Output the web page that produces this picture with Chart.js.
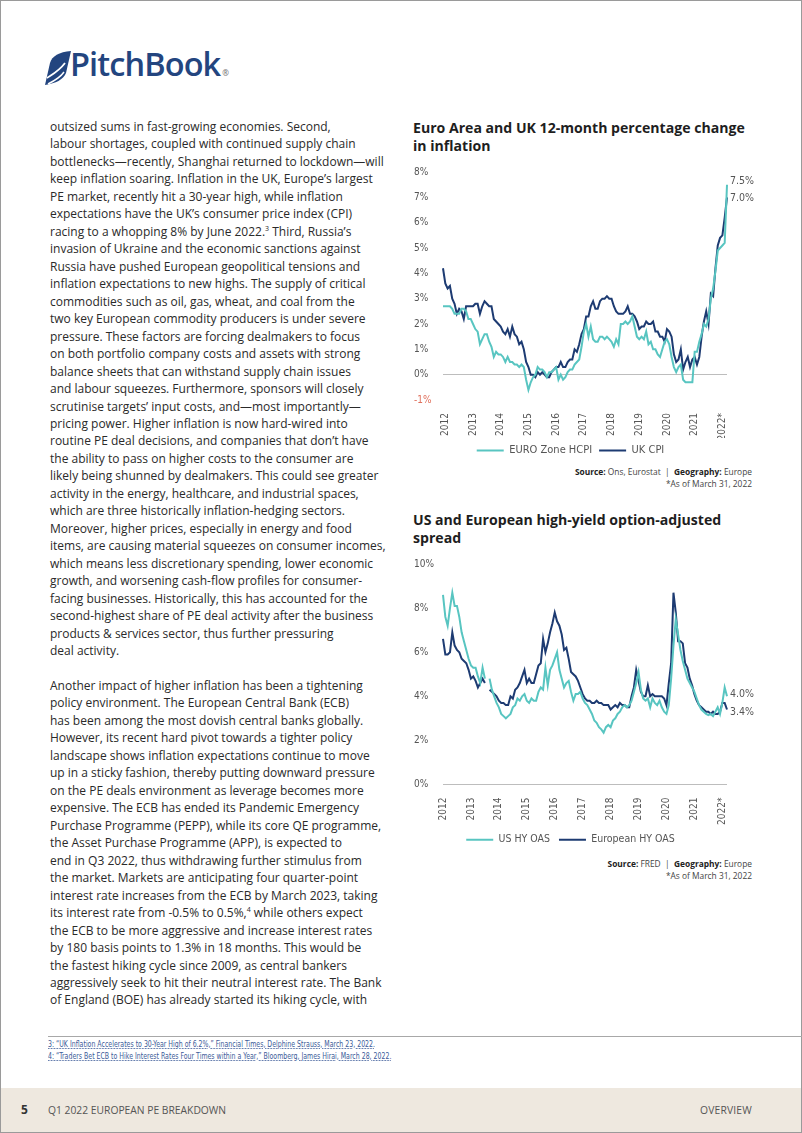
<!DOCTYPE html>
<html><head><meta charset="utf-8">
<script src="https://cdn.jsdelivr.net/npm/chart.js@4.4.0/dist/chart.umd.min.js"></script>
<style>
html,body{margin:0;padding:0;background:#fff;}
body{width:802px;height:1133px;position:relative;overflow:hidden;font-family:"Open Sans",sans-serif;}
.frame{position:absolute;left:0;top:0;width:800px;height:1131px;border:1px solid #9a9a9a;}
.logo{position:absolute;left:44px;top:46px;height:40px;}
.logo .word{position:absolute;left:26px;top:-5px;font-family:"Open Sans",sans-serif;font-weight:600;font-size:32.5px;color:#23457f;letter-spacing:-0.9px;white-space:nowrap;}
.logo .reg{font-size:8px;color:#777;letter-spacing:0;vertical-align:baseline;margin-left:2px;}
.text{position:absolute;left:50px;top:118px;font-size:12px;line-height:17.47px;color:#2a2a2a;white-space:nowrap;}
.text sup{font-size:7px;line-height:0;vertical-align:5px;}
.title{position:absolute;left:413px;font-weight:700;font-size:14.1px;line-height:18px;color:#1e1e1e;white-space:nowrap;}
.chartbox{position:absolute;}
.src{position:absolute;right:50px;font-size:8.4px;line-height:12px;color:#444;text-align:right;white-space:nowrap;}
.src b{color:#222;}
.rule{position:absolute;left:48px;top:1036px;width:754px;height:1px;background:#a8a8a8;}
.fn{position:absolute;left:48px;font-family:"DejaVu Sans Condensed","Liberation Sans Narrow",sans-serif;font-size:9px;color:#3b5a98;text-decoration:underline dotted;white-space:nowrap;transform:scaleX(0.77);transform-origin:0 0;}
.footer{position:absolute;left:1px;top:1088px;width:800px;height:44px;background:#eee8df;}
.footer .pg{position:absolute;left:20px;top:13px;font-weight:700;font-size:12px;color:#333;}
.footer .t{position:absolute;left:47px;top:15px;font-size:10.3px;color:#555;letter-spacing:0;}
.footer .r{position:absolute;right:49px;top:15px;font-size:10.3px;color:#555;letter-spacing:0.2px;}
</style></head>
<body>
<div class="frame"></div>
<div class="logo">
<svg width="28" height="36" viewBox="0 0 28 36" style="position:absolute;left:0;top:4px">
<path d="M1 35 L6 13 C8 6 15 2 27 1 L22 23 C19 30 12 33 1 35 Z" fill="#23457f"/>
<path d="M3 28 C9 24 15 21 21 13" stroke="#fff" stroke-width="1.8" fill="none"/>
<path d="M4 34 C10 31 16 28 20 22" stroke="#fff" stroke-width="1.4" fill="none"/>
</svg>
<div class="word">PitchBook<span class="reg">®</span></div>
</div>

<div class="text">outsized sums in fast-growing economies. Second,<br>
labour shortages, coupled with continued supply chain<br>
bottlenecks—recently, Shanghai returned to lockdown—will<br>
keep inflation soaring. Inflation in the UK, Europe’s largest<br>
PE market, recently hit a 30-year high, while inflation<br>
expectations have the UK’s consumer price index (CPI)<br>
racing to a whopping 8% by June 2022.<sup>3</sup> Third, Russia’s<br>
invasion of Ukraine and the economic sanctions against<br>
Russia have pushed European geopolitical tensions and<br>
inflation expectations to new highs. The supply of critical<br>
commodities such as oil, gas, wheat, and coal from the<br>
two key European commodity producers is under severe<br>
pressure. These factors are forcing dealmakers to focus<br>
on both portfolio company costs and assets with strong<br>
balance sheets that can withstand supply chain issues<br>
and labour squeezes. Furthermore, sponsors will closely<br>
scrutinise targets’ input costs, and—most importantly—<br>
pricing power. Higher inflation is now hard-wired into<br>
routine PE deal decisions, and companies that don’t have<br>
the ability to pass on higher costs to the consumer are<br>
likely being shunned by dealmakers. This could see greater<br>
activity in the energy, healthcare, and industrial spaces,<br>
which are three historically inflation-hedging sectors.<br>
Moreover, higher prices, especially in energy and food<br>
items, are causing material squeezes on consumer incomes,<br>
which means less discretionary spending, lower economic<br>
growth, and worsening cash-flow profiles for consumer-<br>
facing businesses. Historically, this has accounted for the<br>
second-highest share of PE deal activity after the business<br>
products &amp; services sector, thus further pressuring<br>
deal activity.<br>
<br>
Another impact of higher inflation has been a tightening<br>
policy environment. The European Central Bank (ECB)<br>
has been among the most dovish central banks globally.<br>
However, its recent hard pivot towards a tighter policy<br>
landscape shows inflation expectations continue to move<br>
up in a sticky fashion, thereby putting downward pressure<br>
on the PE deals environment as leverage becomes more<br>
expensive. The ECB has ended its Pandemic Emergency<br>
Purchase Programme (PEPP), while its core QE programme,<br>
the Asset Purchase Programme (APP), is expected to<br>
end in Q3 2022, thus withdrawing further stimulus from<br>
the market. Markets are anticipating four quarter-point<br>
interest rate increases from the ECB by March 2023, taking<br>
its interest rate from -0.5% to 0.5%,<sup>4</sup> while others expect<br>
the ECB to be more aggressive and increase interest rates<br>
by 180 basis points to 1.3% in 18 months. This would be<br>
the fastest hiking cycle since 2009, as central bankers<br>
aggressively seek to hit their neutral interest rate. The Bank<br>
of England (BOE) has already started its hiking cycle, with</div>

<div class="title" style="top:119px">Euro Area and UK 12-month percentage change<br>in inflation</div>
<div class="chartbox" style="left:414px;top:160px;width:341px;height:306px"><canvas id="c1"></canvas></div>
<div class="src" style="top:466px"><b>Source:</b> Ons, Eurostat &nbsp;|&nbsp; <b>Geography:</b> Europe<br>*As of March 31, 2022</div>

<div class="title" style="top:511px">US and European high-yield option-adjusted<br>spread</div>
<div class="chartbox" style="left:414px;top:552px;width:341px;height:303px"><canvas id="c2"></canvas></div>
<div class="src" style="top:858px"><b>Source:</b> FRED &nbsp;|&nbsp; <b>Geography:</b> Europe<br>*As of March 31, 2022</div>

<div class="rule"></div>
<div class="fn" style="top:1039px">3: “UK Inflation Accelerates to 30-Year High of 6.2%,” Financial Times, Delphine Strauss, March 23, 2022.</div>
<div class="fn" style="top:1051px">4: “Traders Bet ECB to Hike Interest Rates Four Times within a Year,” Bloomberg, James Hirai, March 28, 2022.</div>

<div class="footer"><span class="pg">5</span><span class="t">Q1 2022 EUROPEAN PE BREAKDOWN</span><span class="r">OVERVIEW</span></div>

<script>
// ---------- data ----------
const MONTHS = ['Jan','Feb','Mar','Apr','May','Jun','Jul','Aug','Sep','Oct','Nov','Dec'];
const YEARS = [2012,2013,2014,2015,2016,2017,2018,2019,2020,2021,2022];
const yearTickLabels = ['2012','2013','2014','2015','2016','2017','2018','2019','2020','2021','2022*'];

// Inflation chart: Dec 2011 .. Mar 2022
const inflationMonths = ['Dec 2011'].concat(YEARS.flatMap(y => MONTHS.map(m => m + ' ' + y))).slice(0, 124);
const euroHCPI = [2.7,
 2.7,2.7,2.7,2.6,2.4,2.4,2.4,2.6,2.6,2.5,2.2,2.2,
 2.0,1.8,1.7,1.2,1.4,1.6,1.6,1.3,1.1,0.7,0.9,0.8,
 0.8,0.7,0.5,0.7,0.5,0.5,0.4,0.4,0.3,0.4,0.3,-0.2,
 -0.6,-0.3,-0.1,0.0,0.3,0.2,0.2,0.1,-0.1,0.1,0.1,0.2,
 0.3,-0.2,0.0,-0.2,-0.1,0.1,0.2,0.2,0.4,0.5,0.6,1.1,
 1.7,2.0,1.5,1.9,1.4,1.3,1.3,1.5,1.5,1.4,1.5,1.4,
 1.3,1.1,1.4,1.2,2.0,2.0,2.1,2.0,2.1,2.3,1.9,1.5,
 1.4,1.5,1.4,1.7,1.2,1.3,1.0,1.0,0.8,0.7,1.0,1.3,
 1.4,1.2,0.7,0.3,0.1,0.3,0.4,-0.2,-0.3,-0.3,-0.3,-0.3,
 0.9,0.9,1.3,1.6,2.0,1.9,2.2,3.0,3.4,4.1,4.9,5.0,
 5.1,5.2,7.5];
const ukCPI = [4.2,
 3.6,3.4,3.5,3.0,2.8,2.4,2.6,2.5,2.2,2.7,2.7,2.7,
 2.7,2.8,2.8,2.4,2.7,2.9,2.8,2.7,2.7,2.2,2.1,2.0,
 1.9,1.7,1.6,1.8,1.5,1.9,1.6,1.5,1.2,1.3,1.0,0.5,
 0.3,0.0,0.0,-0.1,0.1,0.0,0.1,0.0,-0.1,-0.1,0.1,0.2,
 0.3,0.3,0.5,0.3,0.3,0.5,0.6,0.6,1.0,0.9,1.2,1.6,
 1.8,2.3,2.3,2.7,2.9,2.6,2.6,2.9,3.0,3.0,3.1,3.0,
 3.0,2.7,2.5,2.4,2.4,2.4,2.5,2.7,2.4,2.4,2.3,2.1,
 1.8,1.9,1.9,2.1,2.0,2.0,2.1,1.7,1.7,1.5,1.5,1.3,
 1.8,1.7,1.5,0.8,0.5,0.6,1.0,0.2,0.5,0.7,0.3,0.6,
 0.7,0.4,0.7,1.5,2.1,2.5,2.0,3.2,3.1,4.2,5.1,5.4,
 5.5,6.2,7.0];

// Spread chart: Jan 2012 .. Mar 2022
const spreadMonths = YEARS.flatMap(y => MONTHS.map(m => m + ' ' + y)).slice(0, 123);
const usHYOAS = [8.6,7.6,7.2,8.0,8.7,8.1,8.1,7.6,6.9,6.5,6.1,5.7,
 5.4,5.3,5.3,4.9,4.6,5.3,4.8,null,4.8,4.3,4.0,3.7,
 3.5,3.2,3.1,3.0,3.1,3.2,3.5,3.6,3.9,3.8,4.0,4.1,
 3.8,3.7,3.9,3.8,3.8,4.2,4.4,4.3,5.3,4.5,5.2,5.4,
 5.7,6.0,5.2,4.8,4.4,4.6,4.7,4.2,3.8,4.1,4.1,4.2,
 3.9,3.7,3.6,3.4,3.2,2.9,2.8,2.6,2.5,2.35,2.6,2.7,
 2.6,2.9,3.0,3.2,3.3,3.5,3.6,3.5,3.6,3.8,4.2,4.6,
 5.1,4.3,3.9,3.8,3.9,3.5,3.9,3.7,3.6,3.8,3.5,3.3,
 3.2,3.6,4.8,6.3,7.5,6.8,6.1,5.6,5.2,4.8,4.6,4.4,
 4.2,3.9,3.6,3.4,3.3,3.2,3.15,3.2,3.1,3.3,3.5,3.2,
 3.7,4.4,4.0];
const europeanHYOAS = [6.6,5.9,5.9,6.0,6.9,6.3,6.1,6.0,5.7,5.6,5.5,5.2,
 4.8,4.9,4.7,4.4,4.6,4.8,4.6,null,4.3,4.2,4.1,4.0,
 3.8,3.7,3.7,3.6,3.6,4.0,3.9,4.3,4.4,4.6,4.9,5.2,
 4.6,4.8,4.6,4.6,5.0,5.4,5.5,6.6,6.0,6.4,6.9,7.3,
 7.8,7.4,7.2,6.8,6.1,6.2,5.7,5.1,5.0,4.9,4.7,4.4,
 4.1,3.9,3.8,3.8,3.7,3.7,3.8,3.7,3.7,3.6,3.6,3.6,
 3.4,3.5,3.6,3.5,3.7,3.6,3.6,3.5,3.5,4.0,4.4,5.2,
 4.7,4.2,4.0,4.0,4.5,4.0,4.1,4.0,4.0,4.0,4.0,3.9,
 3.6,4.6,5.5,8.7,7.8,6.5,6.5,6.4,5.5,5.3,4.8,4.5,
 4.1,3.8,3.6,3.5,3.4,3.3,3.3,3.2,3.3,3.2,3.2,3.3,
 3.7,3.7,3.4];

// ---------- styling ----------
const TEAL = '#58c5c1';
const NAVY = '#1d3b72';
const COND = '"DejaVu Sans Condensed","Liberation Sans Narrow",sans-serif';
const TICK_FONT = {family:COND, size:10};

const endLabels = {
  id:'endLabels',
  afterDatasetsDraw(chart, args, opts){
    const ctx = chart.ctx;
    ctx.save();
    ctx.font = '10.5px ' + COND;
    ctx.fillStyle = '#555';
    ctx.textBaseline = 'middle';
    chart.data.datasets.forEach((ds, i) => {
      const meta = chart.getDatasetMeta(i);
      const pt = meta.data[meta.data.length - 1];
      const v = ds.data[ds.data.length - 1];
      ctx.fillText(v.toFixed(1) + '%', pt.x + 3, pt.y + (opts.dy[i] || 0));
    });
    ctx.restore();
  }
};

function yearTick(labels){
  return function(val){
    const c = this.getLabelForValue(val);
    if (c && c.startsWith('Jan ')) return labels[YEARS.indexOf(+c.slice(4))];
    return null;
  };
}

function makeChart(id, cats, series, colors, names, yMin, yMax, yStep, dy, xH, legendFont, legendPad){
  return new Chart(document.getElementById(id), {
    type:'line',
    data:{
      labels:cats,
      datasets:series.map((d,i)=>({label:names[i], data:d, borderColor:colors[i], backgroundColor:colors[i], borderWidth:2, pointRadius:0, tension:0, spanGaps:false}))
    },
    plugins:[endLabels],
    options:{
      responsive:true, maintainAspectRatio:false, animation:false,
      layout:{padding:{top:12, right:28, left:0, bottom:0}},
      plugins:{
        tooltip:{enabled:false},
        endLabels:{dy:dy},
        legend:{position:'bottom', labels:{
          boxWidth:27, boxHeight:2, padding:legendPad, color:'#555',
          font:{family:COND, size:legendFont},
          generateLabels(chart){
            return Chart.defaults.plugins.legend.labels.generateLabels(chart).map(l=>Object.assign(l,{fillStyle:l.strokeStyle, lineWidth:0}));
          }
        }}
      },
      scales:{
        x:{type:'category', offset:false, grid:{display:false}, border:{display:false},
          ticks:{autoSkip:false, minRotation:90, maxRotation:90, color:'#555', font:TICK_FONT, padding:5, callback:yearTick(yearTickLabels)},
          afterFit(s){ s.height = xH; }},
        y:{min:yMin, max:yMax, border:{display:false},
          grid:{drawTicks:false, color:c=>c.tick && c.tick.value===0 ? '#bdbdbd' : 'rgba(0,0,0,0)', lineWidth:1},
          ticks:{stepSize:yStep, crossAlign:'far', padding:6, font:TICK_FONT,
            color:c=>c.tick.value<0 ? '#e0705c' : '#555',
            callback:v=>v+'%'},
          afterFit(s){ s.width = 29; }}
      }
    }
  });
}

makeChart('c1', inflationMonths, [euroHCPI, ukCPI], [TEAL, NAVY], ['EURO Zone HCPI','UK CPI'], -1, 8, 1, [-3, 1], 38, 11, 7);
makeChart('c2', spreadMonths, [usHYOAS, europeanHYOAS], [TEAL, NAVY], ['US HY OAS','European HY OAS'], 0, 10, 2, [-2, 3], 41, 10.5, 9);
</script>
</body></html>
